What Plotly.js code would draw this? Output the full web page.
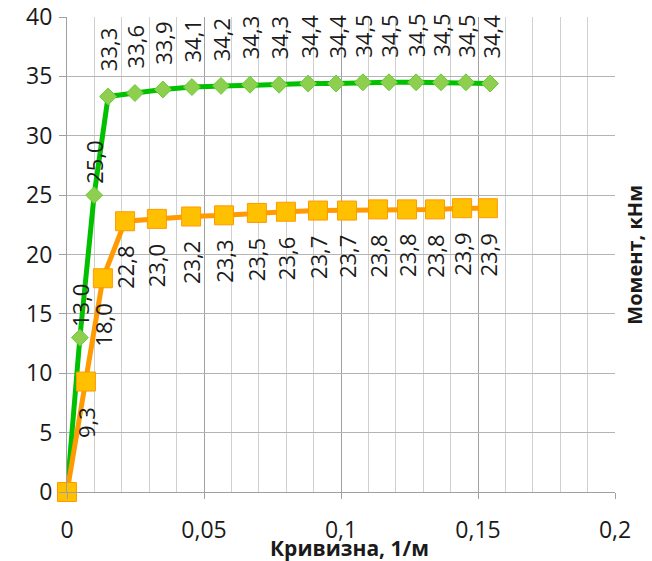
<!DOCTYPE html>
<html>
<head>
<meta charset="utf-8">
<script src="https://cdn.plot.ly/plotly-3.0.1.min.js"></script>
<style>html,body{margin:0;padding:0;background:#fff;}#chart{width:652px;height:561px;}</style>
</head>
<body>
<div id="chart"></div>
<script>
// Curvature (1/m) and moment (kNm) values
const xGreen = [0, 0.0047, 0.0099, 0.0150, 0.0248, 0.0350, 0.0456, 0.0562, 0.0668, 0.0774, 0.0880, 0.0982, 0.1080, 0.1175, 0.1274, 0.1365, 0.1456, 0.1544];
const yGreen = [0, 13.0, 25.0, 33.3, 33.6, 33.9, 34.1, 34.2, 34.3, 34.3, 34.4, 34.4, 34.5, 34.5, 34.5, 34.5, 34.5, 34.4];
const xOrange = [0, 0.0069, 0.0131, 0.0212, 0.0328, 0.0453, 0.0573, 0.0693, 0.0799, 0.0916, 0.1022, 0.1135, 0.1241, 0.1343, 0.1442, 0.1536];
const yOrange = [0, 9.3, 18.0, 22.8, 23.0, 23.2, 23.3, 23.5, 23.6, 23.7, 23.7, 23.8, 23.8, 23.8, 23.9, 23.9];
const xTickVals = [0, 0.05, 0.1, 0.15, 0.2];
const xTickText = ['0', '0,05', '0,1', '0,15', '0,2'];
const yTickVals = [0, 5, 10, 15, 20, 25, 30, 35, 40];
const xTitle = 'Кривизна, 1/м';
const yTitle = 'Момент, кНм';

const FONT = 'Open Sans, DejaVu Sans, sans-serif';
const fmt = v => v.toFixed(1).replace('.', ',');

const traces = [
  {
    x: xGreen, y: yGreen, type: 'scatter', mode: 'lines+markers', cliponaxis: false,
    line: {color: '#00c000', width: 5},
    marker: {symbol: 'diamond', size: 13, color: '#8fcf4f', line: {color: '#66cc33', width: 1}},
    hoverinfo: 'skip'
  },
  {
    x: xOrange, y: yOrange, type: 'scatter', mode: 'lines+markers', cliponaxis: false,
    line: {color: '#ff9a00', width: 5},
    marker: {symbol: 'square', size: 19, color: '#ffc000', line: {color: '#ff9a00', width: 1}},
    hoverinfo: 'skip'
  }
];

const annotations = [];
for (let i = 1; i < xGreen.length; i++) {
  annotations.push({
    x: xGreen[i], y: yGreen[i], xref: 'x', yref: 'y', text: fmt(yGreen[i]),
    showarrow: false, textangle: -90, xanchor: 'center', yanchor: 'bottom',
    yshift: yGreen[i] < 30 ? 9 : 23,
    font: {family: FONT, size: 22, color: '#1a1a1a'}
  });
}
for (let i = 1; i < xOrange.length; i++) {
  annotations.push({
    x: xOrange[i], y: yOrange[i], xref: 'x', yref: 'y', text: fmt(yOrange[i]),
    showarrow: false, textangle: -90, xanchor: 'center', yanchor: 'top', yshift: -23,
    font: {family: FONT, size: 22, color: '#1a1a1a'}
  });
}
annotations.push({
  text: '<b>' + xTitle + '</b>', xref: 'paper', yref: 'paper', x: 0.516, y: -0.118,
  xanchor: 'center', yanchor: 'middle', showarrow: false,
  font: {family: FONT, size: 21, color: '#1a1a1a'}
});
annotations.push({
  text: '<b>' + yTitle + '</b>', xref: 'paper', yref: 'paper', x: 1.035, y: 0.5,
  xanchor: 'center', yanchor: 'middle', showarrow: false, textangle: -90,
  font: {family: FONT, size: 20, color: '#1a1a1a'}
});

const layout = {
  width: 652, height: 561,
  margin: {l: 67, r: 37, t: 17, b: 69},
  paper_bgcolor: '#ffffff', plot_bgcolor: '#ffffff',
  showlegend: false,
  font: {family: FONT, color: '#1a1a1a'},
  xaxis: {
    range: [0, 0.2], tickvals: xTickVals, ticktext: xTickText,
    showgrid: true, gridcolor: '#a0a0a0', gridwidth: 1,
    minor: {dtick: 0.01, tick0: 0, showgrid: true, gridcolor: '#d0d0d0', gridwidth: 1},
    showline: true, linecolor: '#a0a0a0', linewidth: 1,
    ticks: 'outside', ticklen: 6, tickcolor: '#a0a0a0',
    ticklabelstandoff: 11, zeroline: false,
    tickfont: {family: FONT, size: 23, color: '#1a1a1a'}
  },
  yaxis: {
    range: [0, 40], tickvals: yTickVals,
    showgrid: true, gridcolor: '#b4b4b4', gridwidth: 1,
    showline: true, linecolor: '#a0a0a0', linewidth: 1,
    ticks: 'outside', ticklen: 7, tickcolor: '#a0a0a0',
    ticklabelstandoff: 2, zeroline: false,
    tickfont: {family: FONT, size: 23, color: '#1a1a1a'}
  },
  annotations: annotations
};

Plotly.newPlot('chart', traces, layout, {staticPlot: true});
</script>
</body>
</html>
